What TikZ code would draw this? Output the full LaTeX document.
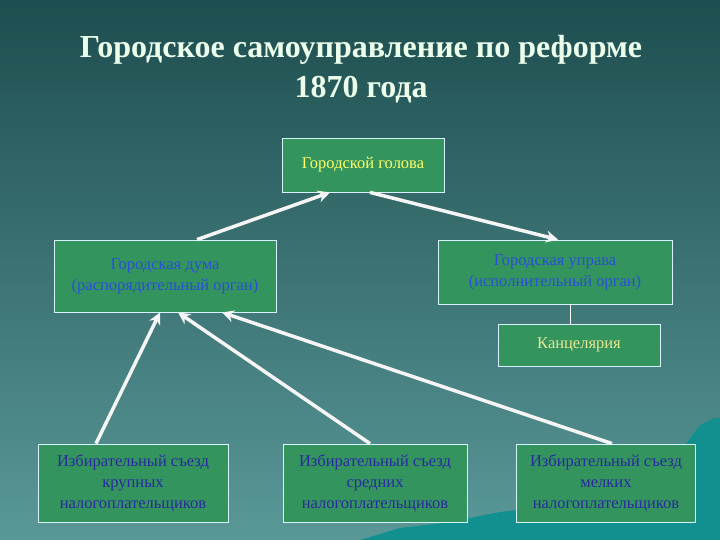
\documentclass[tikz,border=0pt]{standalone}
\usepackage{fontspec}
\setmainfont{Liberation Serif}
\usetikzlibrary{arrows.meta}
\definecolor{bgtop}{HTML}{1E4E4F}
\definecolor{bgbot}{HTML}{5A9898}
\definecolor{boxg}{HTML}{33945E}
\definecolor{txtb}{HTML}{2850D8}
\definecolor{txtd}{HTML}{2A2AA0}
\definecolor{txty}{HTML}{FFFF66}
\definecolor{txtk}{HTML}{E8E890}
\definecolor{mount}{HTML}{11908F}
\tikzset{
  box/.style={draw=white!85!cyan, line width=0.8pt, fill=boxg, align=center, font=\fontsize{16.5}{21}\selectfont, inner sep=2pt},
  arr/.style={draw=white!92!gray, line width=3.5pt, -{Stealth[length=12pt,width=12pt]}},
  ln/.style={draw=white, line width=1pt}
}
\begin{document}
\begin{tikzpicture}[x=1pt,y=-1pt]
\shade[top color=bgtop, bottom color=bgbot] (0,0) rectangle (720,540);
\useasboundingbox (0,0) rectangle (720,540);
\fill[mount] (360,540) -- (400,528) -- (450,522) -- (500,512) -- (560,505) -- (610,498) -- (650,472) -- (685,445) -- (700,425) -- (715,418) -- (720,418) -- (720,540) -- cycle;
\node (title) at (361,69) [align=center, text=white!92!green, font=\fontsize{32}{40}\selectfont\bfseries] {Городское самоуправление по реформе\\1870 года};
\node[box, minimum width=162pt, minimum height=54pt, text=txty] (gol) at (363,165) {Городской голова};
\node[box, minimum width=222pt, minimum height=72pt, text=txtb] (duma) at (165,276) {Городская дума\\(распорядительный орган)};
\node[box, minimum width=234pt, minimum height=64pt, text=txtb] (upr) at (555,272) {Городская управа\\(исполнительный орган)};
\node[box, minimum width=162pt, minimum height=42pt, text=txtk] (kanc) at (579,345) {Канцелярия};
\node[box, minimum width=190pt, minimum height=78pt, text=txtd] (b1) at (133,483) {Избирательный съезд\\крупных\\налогоплательщиков};
\node[box, minimum width=184pt, minimum height=78pt, text=txtd] (b2) at (375,483) {Избирательный съезд\\средних\\налогоплательщиков};
\node[box, minimum width=179pt, minimum height=78pt, text=txtd] (b3) at (606,483) {Избирательный съезд\\мелких\\налогоплательщиков};
\draw[arr] (duma.north -| 197,0) -- (gol.south -| 330,0);
\draw[arr] (gol.south -| 370,0) -- (upr.north -| 558,0);
\draw[ln] (upr.south -| 570,0) -- (kanc.north -| 570,0);
\draw[arr] (b1.north -| 96,0) -- (duma.south -| 160,0);
\draw[arr] (b2.north -| 370,0) -- (duma.south -| 178,0);
\draw[arr] (b3.north -| 612,0) -- (duma.south -| 222,0);
\end{tikzpicture}
\end{document}
